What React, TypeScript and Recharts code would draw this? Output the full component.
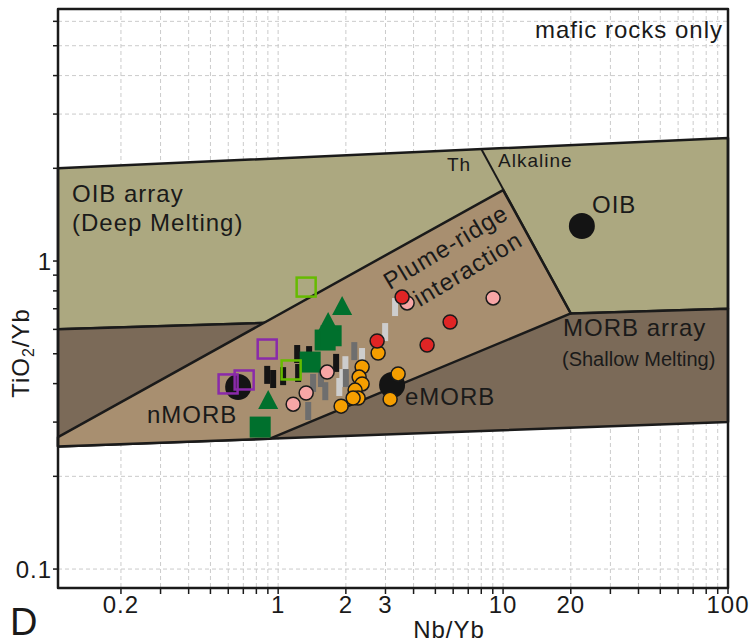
import { ScatterChart, Scatter, XAxis, YAxis, CartesianGrid } from "recharts";

const FONT = '"Liberation Sans", Arial, Helvetica, sans-serif';
const INK = "#1a1a1a";

// log axes: ranges, tick marks and which ticks carry a label
const X_DOMAIN = [0.105, 100];
const Y_DOMAIN = [0.0868, 6.58];
const X_TICKS = [0.2, 0.3, 0.4, 0.5, 0.6, 0.7, 0.8, 0.9, 1, 2, 3, 4, 5, 6, 7, 8, 9, 10, 20, 30, 40, 50, 60, 70, 80, 90, 100];
const X_LABELED = [0.2, 1, 2, 3, 10, 20, 100];
const Y_TICKS = [0.1, 0.2, 0.3, 0.4, 0.5, 0.6, 0.7, 0.8, 0.9, 1, 2, 3, 4, 5, 6];
const Y_LABELED = [0.1, 1];

// discrimination fields (vertices in Nb/Yb, TiO2/Yb)
const OIB_ARRAY = [
  { x: 0.105, y: 2.0 }, { x: 100, y: 2.51 }, { x: 100, y: 0.7 }, { x: 0.105, y: 0.6 },
];
const MORB_ARRAY = [
  { x: 0.105, y: 0.6 }, { x: 100, y: 0.7 }, { x: 100, y: 0.3 }, { x: 0.105, y: 0.25 },
];
const PLUME_RIDGE = [
  { x: 0.105, y: 0.268 }, { x: 10, y: 1.7 }, { x: 20, y: 0.676 }, { x: 0.92, y: 0.265 }, { x: 0.105, y: 0.25 },
];
const TH_ALK_DIVIDE = [{ x: 8, y: 2.31 }, { x: 20, y: 0.676 }];
const FRAME = [
  { x: 0.105, y: 0.0868 }, { x: 0.105, y: 6.58 }, { x: 100, y: 6.58 }, { x: 100, y: 0.0868 },
];

// reference compositions
const REF_POINTS = [
  { x: 22.4, y: 1.3, name: "OIB" },
  { x: 3.21, y: 0.396, name: "eMORB" },
  { x: 0.664, y: 0.39, name: "nMORB" },
];

// samples
const LIGHT_GREY_BARS = [
  { x: 3.31, y: 0.709 }, { x: 2.99, y: 0.588 }, { x: 2.36, y: 0.488 }, { x: 1.99, y: 0.459 },
  { x: 1.87, y: 0.39 }, { x: 1.93, y: 0.417 },
];
const DARK_GREY_BARS = [
  { x: 2.18, y: 0.51 }, { x: 1.55, y: 0.417 }, { x: 1.62, y: 0.378 }, { x: 1.36, y: 0.326 },
  { x: 2.0, y: 0.417 }, { x: 1.43, y: 0.402 },
];
const BLACK_BARS = [
  { x: 1.215, y: 0.499 }, { x: 1.373, y: 0.495 }, { x: 0.894, y: 0.427 }, { x: 0.95, y: 0.414 },
  { x: 1.052, y: 0.423 }, { x: 1.227, y: 0.433 }, { x: 1.81, y: 0.467 },
];
const GREEN_SQUARES = [
  { x: 1.618, y: 0.554 }, { x: 1.72, y: 0.572 }, { x: 1.388, y: 0.47 }, { x: 0.832, y: 0.289 },
];
const GREEN_TRIANGLES = [
  { x: 1.925, y: 0.709 }, { x: 1.668, y: 0.629 }, { x: 0.903, y: 0.351 },
];
const PINK_CIRCLES = [
  { x: 3.744, y: 0.731 }, { x: 9.03, y: 0.759 }, { x: 1.651, y: 0.436 }, { x: 1.332, y: 0.373 },
  { x: 1.166, y: 0.343 },
];
const ORANGE_CIRCLES = [
  { x: 2.783, y: 0.503 }, { x: 2.362, y: 0.453 }, { x: 2.291, y: 0.42 }, { x: 2.362, y: 0.399 },
  { x: 2.198, y: 0.381 }, { x: 2.268, y: 0.359 }, { x: 2.154, y: 0.359 }, { x: 1.905, y: 0.338 },
  { x: 3.415, y: 0.43 }, { x: 3.146, y: 0.356 },
];
const RED_CIRCLES = [
  { x: 3.557, y: 0.764 }, { x: 2.754, y: 0.55 }, { x: 4.594, y: 0.534 }, { x: 5.814, y: 0.634 },
];
const PURPLE_SQUARES = [
  { x: 0.894, y: 0.518 }, { x: 0.599, y: 0.399 }, { x: 0.706, y: 0.411 },
];
const LIME_SQUARES = [
  { x: 1.332, y: 0.823 }, { x: 1.142, y: 0.443 },
];

function pathOf(points: { x: number; y: number }[], close: boolean) {
  return points.map((p, i) => `${i ? "L" : "M"}${p.x},${p.y}`).join(" ") + (close ? " Z" : "");
}

// the scatter "line" gets the vertices already in pixels
function outline(fill: string, close = true, width = 2.5) {
  return (props: any) => (
    <path d={pathOf(props.points, close)} fill={fill} stroke={INK} strokeWidth={width} strokeLinejoin="round" />
  );
}

const noDot = () => <g />;

const dot = (fill: string, r = 7, stroke = INK) => (p: any) => (
  <circle cx={p.cx} cy={p.cy} r={r} fill={fill} stroke={stroke} strokeWidth={stroke === "none" ? 0 : 1.5} />
);
const bar = (fill: string) => (p: any) => (
  <rect x={p.cx - 3} y={p.cy - 9} width={6} height={18} fill={fill} />
);
const box = (color: string, filled: boolean) => (p: any) =>
  filled
    ? <rect x={p.cx - 10.5} y={p.cy - 10.5} width={21} height={21} fill={color} />
    : <rect x={p.cx - 9.5} y={p.cy - 9.5} width={19} height={19} fill="none" stroke={color} strokeWidth={2.5} />;
const tri = (fill: string) => (p: any) => (
  <path d={`M${p.cx},${p.cy - 11} L${p.cx + 10},${p.cy + 8} L${p.cx - 10},${p.cy + 8} Z`} fill={fill} />
);

const TEXT = { fontFamily: FONT, fill: INK, fontSize: 24 };

export default function App() {
  return (
    <div style={{ position: "absolute", left: 0, top: 0, width: 751, height: 644, fontFamily: FONT, letterSpacing: "1px", background: "#fff" }}>
      <ScatterChart width={751} height={644} margin={{ top: 9, right: 23, bottom: 0, left: 0 }}>
        <CartesianGrid stroke="#cbcbcb" strokeDasharray="4 3" />
        <XAxis
          type="number" dataKey="x" scale="log" domain={X_DOMAIN} ticks={X_TICKS} interval={0}
          tickFormatter={(v: number) => (X_LABELED.includes(v) ? String(v) : "")}
          axisLine={false} tickSize={6} tickMargin={2} height={56}
          tick={{ fill: INK, fontSize: 24 }} tickLine={{ stroke: INK, strokeWidth: 1.5 }}
        />
        <YAxis
          type="number" dataKey="y" scale="log" domain={Y_DOMAIN} ticks={Y_TICKS} interval={0}
          tickFormatter={(v: number) => (Y_LABELED.includes(v) ? String(v) : "")}
          axisLine={false} tickSize={5} tickMargin={1} width={58}
          tick={{ fill: INK, fontSize: 24 }} tickLine={{ stroke: INK, strokeWidth: 1.5 }}
        />

        <Scatter data={OIB_ARRAY} line={outline("#aca880")} shape={noDot} isAnimationActive={false} />
        <Scatter data={MORB_ARRAY} line={outline("#7b6a58")} shape={noDot} isAnimationActive={false} />
        <Scatter data={PLUME_RIDGE} line={outline("#a88f70")} shape={noDot} isAnimationActive={false} />
        <Scatter data={TH_ALK_DIVIDE} line={outline("none", false, 2)} shape={noDot} isAnimationActive={false} />

        <Scatter data={REF_POINTS} shape={dot("#141414", 13, "none")} isAnimationActive={false} />

        <Scatter data={LIGHT_GREY_BARS} shape={bar("#cdcdcd")} isAnimationActive={false} />
        <Scatter data={DARK_GREY_BARS} shape={bar("#6e6e6e")} isAnimationActive={false} />
        <Scatter data={BLACK_BARS} shape={bar("#141414")} isAnimationActive={false} />
        <Scatter data={GREEN_SQUARES} shape={box("#00702d", true)} isAnimationActive={false} />
        <Scatter data={GREEN_TRIANGLES} shape={tri("#00702d")} isAnimationActive={false} />
        <Scatter data={PINK_CIRCLES} shape={dot("#f7a6a6")} isAnimationActive={false} />
        <Scatter data={ORANGE_CIRCLES} shape={dot("#f59e00")} isAnimationActive={false} />
        <Scatter data={RED_CIRCLES} shape={dot("#e02525")} isAnimationActive={false} />
        <Scatter data={PURPLE_SQUARES} shape={box("#8a2aaa", false)} isAnimationActive={false} />
        <Scatter data={LIME_SQUARES} shape={box("#66bb00", false)} isAnimationActive={false} />

        <Scatter data={FRAME} line={outline("none", true, 2.5)} shape={noDot} isAnimationActive={false} />
      </ScatterChart>

      {/* field names and annotations */}
      <svg width={751} height={644} style={{ position: "absolute", left: 0, top: 0, pointerEvents: "none" }}>
        <text {...TEXT} x={723} y={38} textAnchor="end">mafic rocks only</text>
        <text {...TEXT} x={72} y={202}>OIB array</text>
        <text {...TEXT} x={72} y={231}>(Deep Melting)</text>
        <text {...TEXT} fontSize={19} x={447} y={171}>Th</text>
        <text {...TEXT} fontSize={19} x={498} y={167}>Alkaline</text>
        <text {...TEXT} x={592} y={213}>OIB</text>
        <text {...TEXT} x={405} y={405}>eMORB</text>
        <text {...TEXT} x={147} y={423}>nMORB</text>
        <text {...TEXT} x={563} y={336}>MORB array</text>
        <text {...TEXT} fontSize={20} letterSpacing={0} x={562} y={366}>(Shallow Melting)</text>
        <text {...TEXT} textAnchor="middle" transform="translate(450,254) rotate(-31)">Plume-ridge</text>
        <text {...TEXT} textAnchor="middle" transform="translate(472,276) rotate(-31)">interaction</text>
        <text {...TEXT} x={449} y={638} textAnchor="middle">Nb/Yb</text>
        <text {...TEXT} textAnchor="middle" transform="translate(29,353) rotate(-90)">
          TiO<tspan fontSize={16} dy={5}>2</tspan><tspan dy={-5}>/Yb</tspan>
        </text>
        <text {...TEXT} fontSize={38} letterSpacing={0} x={10} y={635}>D</text>
      </svg>
    </div>
  );
}
